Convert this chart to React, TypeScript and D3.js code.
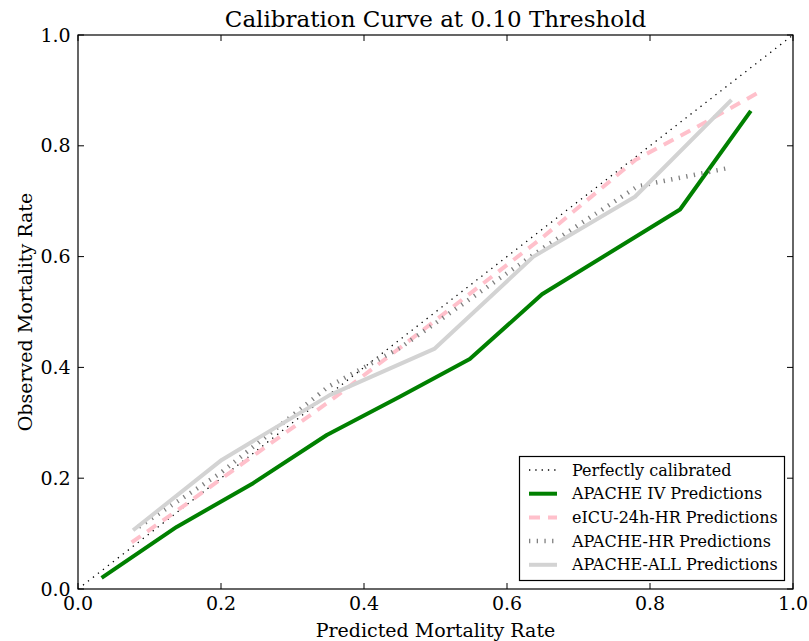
import React from "react";
import * as d3 from "d3";

const ticks = [0, 0.2, 0.4, 0.6, 0.8, 1.0];
const tickLabels = ["0.0", "0.2", "0.4", "0.6", "0.8", "1.0"];

const perfect: [number, number][] = [[0, 0], [1, 1]];
const apacheIV: [number, number][] = [
  [0.033, 0.02], [0.138, 0.112], [0.245, 0.191], [0.348, 0.278], [0.45, 0.347],
  [0.548, 0.415], [0.649, 0.532], [0.842, 0.685], [0.941, 0.863],
];
const eicuHR: [number, number][] = [
  [0.075, 0.084], [0.15, 0.152], [0.25, 0.245], [0.35, 0.337], [0.45, 0.435],
  [0.55, 0.535], [0.65, 0.635], [0.78, 0.775], [0.86, 0.83], [0.95, 0.895],
];
const apacheHR: [number, number][] = [
  [0.085, 0.112], [0.2, 0.21], [0.35, 0.365], [0.45, 0.435], [0.55, 0.525],
  [0.65, 0.615], [0.783, 0.727], [0.91, 0.76],
];
const apacheALL: [number, number][] = [
  [0.077, 0.106], [0.201, 0.233], [0.352, 0.35], [0.499, 0.434], [0.637, 0.6],
  [0.779, 0.708], [0.914, 0.883],
];

const seriesNames = [
  "Perfectly calibrated",
  "APACHE IV Predictions",
  "eICU-24h-HR Predictions",
  "APACHE-HR Predictions",
  "APACHE-ALL Predictions",
];

const W = 809, H = 641;
const L = 78, R = 793, T = 35, B = 589;
const FONT = "'DejaVu Serif', serif";

export default function App() {
  const x = d3.scaleLinear().domain([0, 1]).range([L, R]);
  const y = d3.scaleLinear().domain([0, 1]).range([B, T]);
  const line = d3.line<[number, number]>().x((d) => x(d[0])).y((d) => y(d[1]));

  const styles = [
    { data: perfect, stroke: "#000000", width: 1.3, dash: "1.3,5" },
    { data: apacheIV, stroke: "#008000", width: 4, dash: undefined },
    { data: eicuHR, stroke: "#FFC0CB", width: 4, dash: "11,8" },
    { data: apacheHR, stroke: "#808080", width: 4.5, dash: "1.3,6.4" },
    { data: apacheALL, stroke: "#D3D3D3", width: 4, dash: undefined },
  ];

  const legX = 519.5, legY = 456.5, legW = 265, legH = 124;

  return (
    <svg width={W} height={H} style={{ position: "absolute", left: 0, top: 0, background: "#fff" }}>
      <rect x={0} y={0} width={W} height={H} fill="#fff" />
      <defs>
        <clipPath id="plotclip">
          <rect x={L} y={T} width={R - L} height={B - T} />
        </clipPath>
      </defs>
      <g clipPath="url(#plotclip)">
        {styles.map((s, i) => (
          <path
            key={i}
            d={line(s.data) || ""}
            fill="none"
            stroke={s.stroke}
            strokeWidth={s.width}
            strokeDasharray={s.dash}
            strokeLinecap="butt"
            strokeLinejoin="round"
          />
        ))}
      </g>
      {ticks.map((t, i) => (
        <g key={"t" + i}>
          <line x1={x(t)} x2={x(t)} y1={B} y2={B - 6} stroke="#000" strokeWidth={1} />
          <line x1={x(t)} x2={x(t)} y1={T} y2={T + 6} stroke="#000" strokeWidth={1} />
          <line x1={L} x2={L + 6} y1={y(t)} y2={y(t)} stroke="#000" strokeWidth={1} />
          <line x1={R} x2={R - 6} y1={y(t)} y2={y(t)} stroke="#000" strokeWidth={1} />
          <text x={x(t)} y={610} textAnchor="middle" fontFamily={FONT} fontSize={19}>
            {tickLabels[i]}
          </text>
          <text x={L - 7.3} y={y(t) + 6.5} textAnchor="end" fontFamily={FONT} fontSize={19}>
            {tickLabels[i]}
          </text>
        </g>
      ))}
      <rect x={L} y={T} width={R - L} height={B - T} fill="none" stroke="#000" strokeWidth={1.2} />
      <text x={(L + R) / 2} y={27} textAnchor="middle" fontFamily={FONT} fontSize={23}>
        Calibration Curve at 0.10 Threshold
      </text>
      <text x={(L + R) / 2} y={637} textAnchor="middle" fontFamily={FONT} fontSize={19}>
        Predicted Mortality Rate
      </text>
      <text
        transform={`translate(32,${(T + B) / 2}) rotate(-90)`}
        textAnchor="middle"
        fontFamily={FONT}
        fontSize={19}
      >
        Observed Mortality Rate
      </text>
      <rect x={legX} y={legY} width={legW} height={legH} fill="#fff" stroke="#000" strokeWidth={1.2} />
      {seriesNames.map((name, i) => {
        const s = styles[i];
        const cy = 470 + i * 23.7;
        return (
          <g key={"l" + i}>
            <line
              x1={529}
              x2={557}
              y1={cy}
              y2={cy}
              stroke={s.stroke}
              strokeWidth={s.width}
              strokeDasharray={s.dash}
            />
            <text x={572} y={cy + 5.5} fontFamily={FONT} fontSize={16}>
              {name}
            </text>
          </g>
        );
      })}
    </svg>
  );
}
